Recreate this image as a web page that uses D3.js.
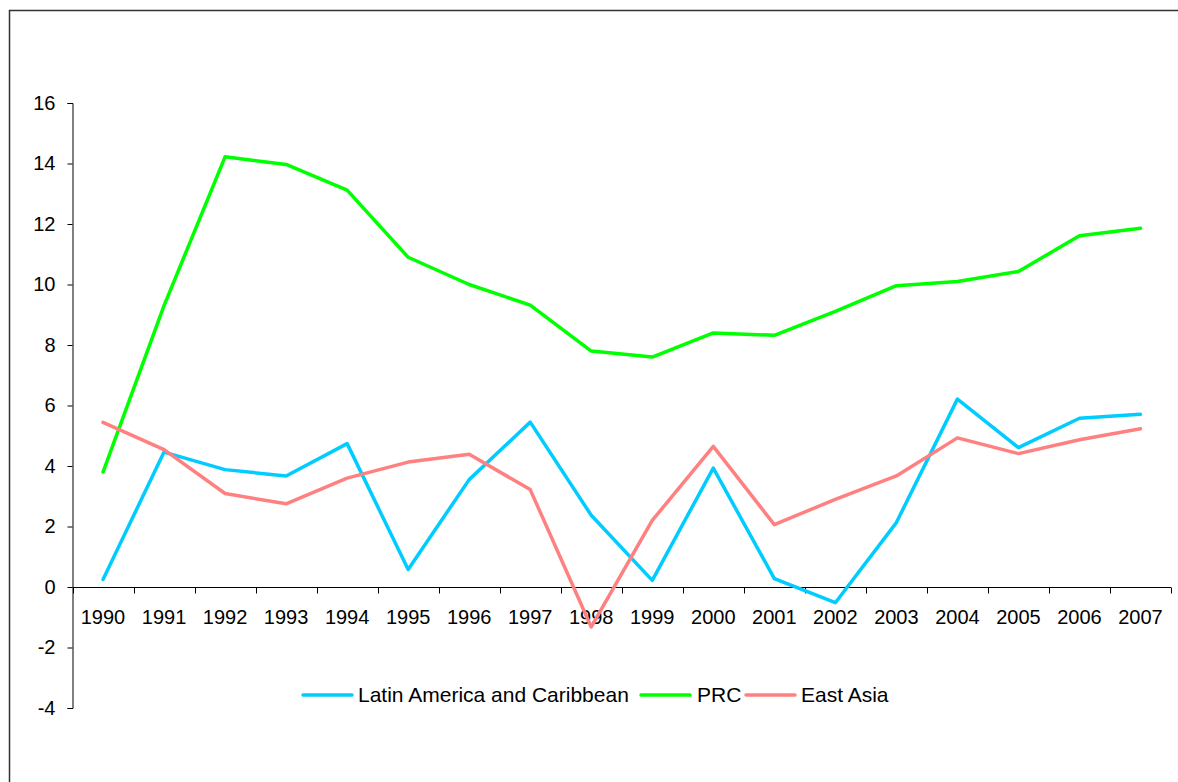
<!DOCTYPE html>
<html>
<head>
<meta charset="utf-8">
<script src="https://cdn.jsdelivr.net/npm/d3@7"></script>
<style>
  html, body { margin: 0; padding: 0; background: #fff; }
  svg { display: block; font-family: "Liberation Sans", Arial, sans-serif; }
</style>
</head>
<body>
<svg id="chart" width="1178" height="782"></svg>
<script>
const years = ["1990","1991","1992","1993","1994","1995","1996","1997","1998","1999","2000","2001","2002","2003","2004","2005","2006","2007"];
const latinAmerica = [0.25, 4.46, 3.88, 3.67, 4.74, 0.58, 3.55, 5.45, 2.37, 0.22, 3.93, 0.28, -0.52, 2.13, 6.21, 4.61, 5.58, 5.71];
const prc = [3.8, 9.3, 14.22, 13.97, 13.12, 10.9, 10.0, 9.32, 7.8, 7.6, 8.4, 8.32, 9.11, 9.96, 10.1, 10.43, 11.61, 11.86];
const eastAsia = [5.44, 4.54, 3.09, 2.75, 3.6, 4.13, 4.39, 3.22, -1.32, 2.2, 4.65, 2.06, 2.9, 3.67, 4.93, 4.41, 4.87, 5.23];
const yTicks = [-4, -2, 0, 2, 4, 6, 8, 10, 12, 14, 16];
const seriesNames = ["Latin America and Caribbean", "PRC", "East Asia"];
const seriesColors = ["#00CCFF", "#00FF00", "#FF8080"];

const series = [latinAmerica, prc, eastAsia].map((vals, i) => ({
  name: seriesNames[i], color: seriesColors[i],
  values: years.map((y, j) => ({ year: y, v: vals[j] }))
}));

const svg = d3.select("#chart");

// outer frame
svg.append("rect")
  .attr("x", 9.5).attr("y", 10.5)
  .attr("width", 1300).attr("height", 900)
  .attr("fill", "none").attr("stroke", "#333").attr("stroke-width", 1.5);

const x = d3.scaleBand().domain(years).range([72.5, 1171]).padding(0);
const y = d3.scaleLinear().domain([-4, 16]).range([708, 103]);

// y axis
const yAxis = svg.append("g")
  .attr("transform", `translate(${72.5},0)`)
  .call(d3.axisLeft(y).tickValues(yTicks).tickSize(5).tickPadding(12).tickFormat(d => String(d)));
yAxis.select(".domain").attr("stroke", "#000");
yAxis.selectAll(".tick line").attr("stroke", "#000");
yAxis.selectAll("text").attr("font-size", 20).attr("fill", "#000")
  .attr("font-family", "'Liberation Sans', Arial, sans-serif");

// x axis at y=0
const y0 = Math.round(y(0)) + 0.5;
const xg = svg.append("g");
xg.append("line")
  .attr("x1", x.range()[0]).attr("x2", x.range()[1])
  .attr("y1", y0).attr("y2", y0)
  .attr("stroke", "#000").attr("stroke-width", 1);
const boundaries = years.map(d => x(d)).concat([x.range()[1]]);
xg.selectAll("line.tk").data(boundaries).join("line")
  .attr("class", "tk")
  .attr("x1", d => Math.round(d) + 0.5).attr("x2", d => Math.round(d) + 0.5)
  .attr("y1", y0).attr("y2", y0 + 6)
  .attr("stroke", "#000");
xg.selectAll("text").data(years).join("text")
  .attr("x", d => x(d) + x.bandwidth() / 2)
  .attr("y", y0 + 36)
  .attr("text-anchor", "middle")
  .attr("font-size", 20)
  .attr("fill", "#000")
  .text(d => d);

// lines
const line = d3.line()
  .x(d => x(d.year) + x.bandwidth() / 2)
  .y(d => y(d.v));

svg.append("g").selectAll("path").data(series).join("path")
  .attr("d", d => line(d.values))
  .attr("fill", "none")
  .attr("stroke", d => d.color)
  .attr("stroke-width", 3.5)
  .attr("stroke-linejoin", "round")
  .attr("stroke-linecap", "round");

// legend
const legendItems = [
  { lx: 303, tx: 358 },
  { lx: 641, tx: 697 },
  { lx: 746, tx: 801 }
];
const ly = 695;
const lg = svg.append("g");
series.forEach((s, i) => {
  const p = legendItems[i];
  lg.append("line")
    .attr("x1", p.lx).attr("x2", p.lx + 49)
    .attr("y1", ly).attr("y2", ly)
    .attr("stroke", s.color).attr("stroke-width", 3.5).attr("stroke-linecap", "round");
  lg.append("text")
    .attr("x", p.tx).attr("y", ly + 7)
    .attr("font-size", 21).attr("fill", "#000")
    .text(s.name);
});
</script>
</body>
</html>
